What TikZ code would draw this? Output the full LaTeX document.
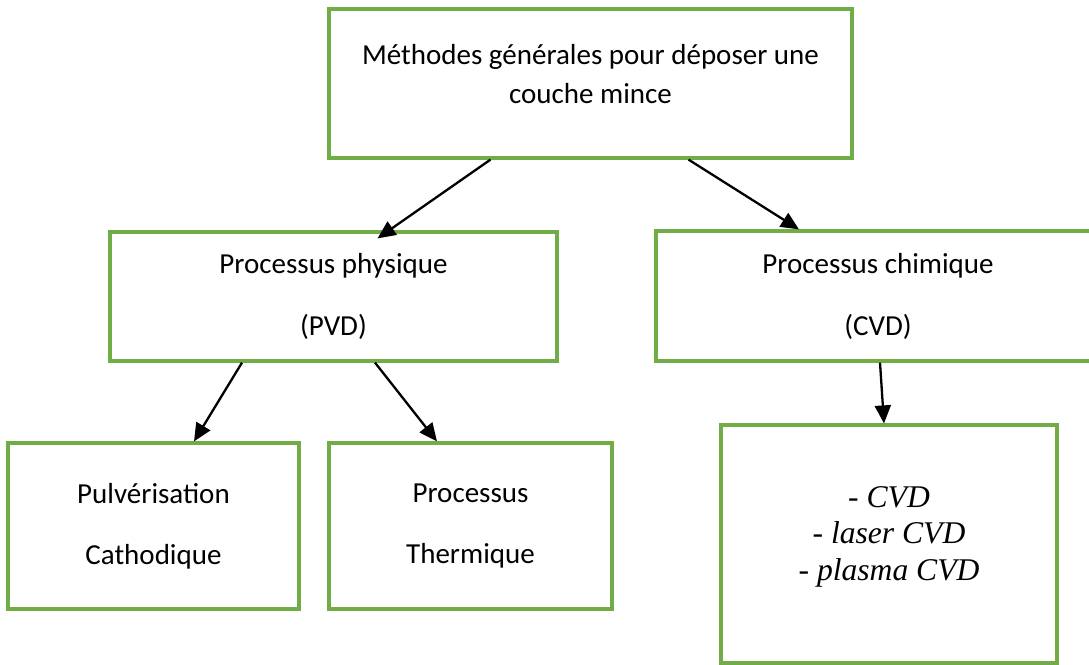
\documentclass[tikz,border=0pt]{standalone}
\usepackage{fontspec}
\setmainfont{Carlito}
\newfontfamily\listfont{Liberation Serif}
\usepackage{xcolor}
\usepackage{tikz}
\usetikzlibrary{arrows.meta}
\definecolor{boxgreen}{RGB}{112,173,71}

\begin{document}
\begin{tikzpicture}[
    x=1pt, y=-1pt,
    box/.style={draw=boxgreen, line width=3.2pt, rectangle, inner sep=0pt, align=center, font=\fontsize{29}{39}\selectfont},
    arrow/.style={line width=2.3pt,->,>={Triangle[length=18pt,width=16pt]}}
]
\useasboundingbox (0,0) rectangle (1089,664);

\node (methods) [box, minimum width=523pt, minimum height=149pt, text height=50pt, text depth=11pt] at (590.5,83.5) {Méthodes générales pour déposer une\\couche mince};
\node (pvd) [box, minimum width=447pt, minimum height=129pt] at (333.5,296.5) {Processus physique\\[23pt](PVD)};
\node (cvd) [box, minimum width=444pt, minimum height=130pt] at (878,296) {Processus chimique\\[23pt](CVD)};
\node (pulve) [box, minimum width=291pt, minimum height=166pt] at (153.5,526) {Pulvérisation\\[22pt]Cathodique};
\node (thermal) [box, minimum width=283pt, minimum height=166pt] at (470.5,526) {Processus\\[22pt]Thermique};
\node (cvdlist) [box, minimum width=336pt, minimum height=238pt, text height=95pt, text depth=23pt,
    font=\listfont\itshape\fontsize{31.6}{36.4}\selectfont] at (889,544) {- CVD\\- laser CVD\\- plasma CVD};

\draw[arrow] ([xshift=-100pt]methods.south) -- ([xshift=44pt,yshift=-8pt]pvd.north);
\draw[arrow] ([xshift=98pt]methods.south) -- ([xshift=-79pt]cvd.north);
\draw[arrow] ([xshift=-91.5pt]pvd.south) -- ([xshift=40.5pt]pulve.north);
\draw[arrow] ([xshift=41.5pt]pvd.south) -- ([xshift=-33.5pt]thermal.north);
\draw[arrow] ([xshift=2pt]cvd.south) -- ([xshift=-5pt]cvdlist.north);

\end{tikzpicture}
\end{document}
